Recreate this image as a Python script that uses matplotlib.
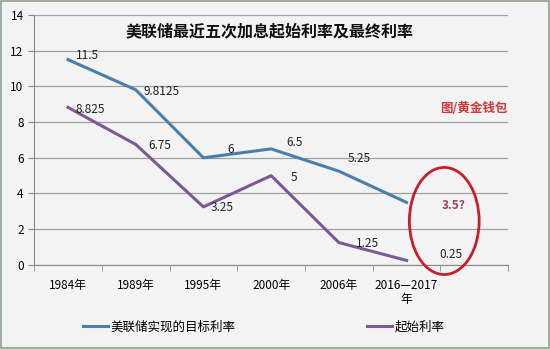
import matplotlib

matplotlib.use("Agg")
import matplotlib.pyplot as plt
from matplotlib.patches import Ellipse, Rectangle

plt.rcParams["font.family"] = ["Noto Sans CJK SC", "DejaVu Sans"]

categories = ["1984年", "1989年", "1995年", "2000年", "2006年", "2016—2017\n年"]
target_rate = [11.5, 9.8125, 6, 6.5, 5.25, 3.5]
start_rate = [8.825, 6.75, 3.25, 5, 1.25, 0.25]
target_labels = ["11.5", "9.8125", "6", "6.5", "5.25", "3.5"]
start_labels = ["8.825", "6.75", "3.25", "5", "1.25", "0.25"]
yticks = [0, 2, 4, 6, 8, 10, 12, 14]

BLUE = "#4a7eab"
PURPLE = "#7b5b93"
RED = "#c81e2b"

fig = plt.figure(figsize=(5.5, 3.49), dpi=100)
fig.patch.set_facecolor("#f3f3f3")
fig.patches.append(Rectangle((0.002, 0.003), 0.996, 0.994, transform=fig.transFigure,
                             fill=False, edgecolor="#8fa28f", linewidth=1.2))
ax = fig.add_axes([0.062, 0.241, 0.862, 0.716])
ax.set_facecolor("#f3f3f3")

x = list(range(len(categories)))
ax.plot(x, target_rate, color=BLUE, linewidth=2.2, label="美联储实现的目标利率")
ax.plot(x, start_rate, color=PURPLE, linewidth=2.2, label="起始利率")

t_off = [(8, 4), (8, -2), (24, 8), (15, 6), (9, 13), (35, -3)]
s_off = [(8, -2), (13, -1), (7, -1), (20, -2), (17, -1), (33, 6)]
for i, (v, lab, off) in enumerate(zip(target_rate, target_labels, t_off)):
    last = i == len(x) - 1
    ax.annotate(lab + ("?" if last else ""), (i, v), xytext=off, textcoords="offset pixels",
                va="center", ha="left", fontsize=8.5,
                color="#a8404f" if last else "#222222",
                fontweight="bold" if last else "normal")
for i, (v, lab, off) in enumerate(zip(start_rate, start_labels, s_off)):
    ax.annotate(lab, (i, v), xytext=off, textcoords="offset pixels",
                va="center", ha="left", fontsize=8.5, color="#222222")

ax.add_patch(Ellipse((5.556, 2.46), 1.03, 6.0, fill=False, edgecolor=RED,
                     linewidth=2, clip_on=False, zorder=5))

ax.set_xlim(-0.5, 6.5)
ax.set_ylim(0, 14)
ax.set_yticks(yticks)
ax.set_xticks(x)
ax.set_xticklabels(categories, fontsize=8.5, linespacing=1.15)
ax.set_xticks([i - 0.5 for i in range(8)], minor=True)
ax.tick_params(axis="x", which="major", length=0, pad=10)
ax.tick_params(axis="x", which="minor", length=4, color="#888888")
ax.tick_params(axis="y", labelsize=8.5, length=4, color="#888888")
ax.grid(axis="y", color="#a0a0a0", linewidth=0.9)
ax.set_axisbelow(True)
for side in ("top", "right"):
    ax.spines[side].set_visible(False)
ax.spines["left"].set_color("#888888")
ax.spines["bottom"].set_color("#888888")

fig.text(0.49, 0.91, "美联储最近五次加息起始利率及最终利率", ha="center", va="center",
         fontsize=11.5, fontweight="bold", color="#111111")
fig.text(0.922, 0.69, "图/黄金钱包", ha="right", va="center", fontsize=9,
         fontweight="bold", color="#d03a3a")

fig.legend(loc="center", bbox_to_anchor=(0.48, 0.063), ncol=2, frameon=False,
           fontsize=9, handlelength=2.0, handletextpad=0.2, columnspacing=10.5)

fig.savefig("out.png", dpi=100, facecolor=fig.get_facecolor())
